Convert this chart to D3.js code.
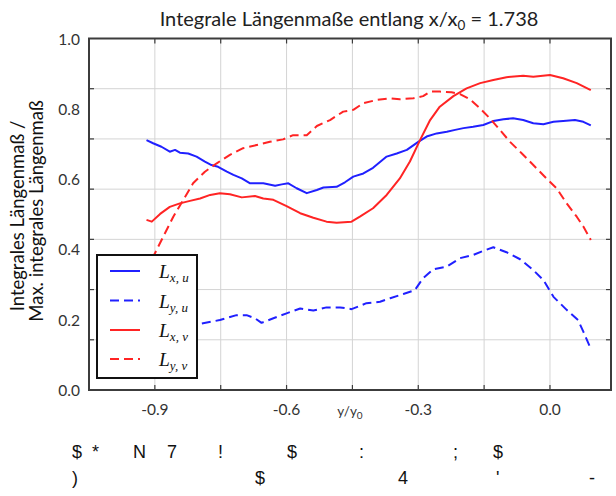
<!DOCTYPE html>
<html><head><meta charset="utf-8">
<script src="https://cdn.jsdelivr.net/npm/d3@7"></script>
<style>body{margin:0;background:#fff}svg{display:block}</style>
</head><body>
<svg id="c" width="616" height="496"></svg>
<script>
// ---------- data ----------
const xTicks = [-0.9, -0.75, -0.6, -0.45, -0.3, -0.15, 0.0];
const xTickLabels = ["-0.9", "-0.6", "-0.3", "0.0"];
const xLabelVals = [-0.9, -0.6, -0.3, 0.0];
const yLabelVals = [0, 0.2, 0.4, 0.6, 0.8, 1.0];
const yTickLabels = ["0.0", "0.2", "0.4", "0.6", "0.8", "1.0"];
const yGridVals = [1/7, 2/7, 3/7, 4/7, 5/7, 6/7];

const title = "Integrale Längenmaße entlang x/x";
const titleSub = "0";
const titleEnd = " = 1.738";
const yTitle1 = "Integrales Längenmaß /";
const yTitle2 = "Max. integrales Längenmaß";

// L_{x,u}  (blue solid)
const xLxu = [-0.919,-0.904,-0.885,-0.866,-0.854,-0.843,-0.824,-0.805,-0.786,-0.771,-0.756,-0.736,-0.721,-0.702,-0.683,-0.653,-0.626,-0.611,-0.596,-0.577,-0.554,-0.531,-0.516,-0.486,-0.467,-0.448,-0.425,-0.403,-0.372,-0.349,-0.326,-0.300,-0.281,-0.258,-0.235,-0.216,-0.197,-0.175,-0.152,-0.129,-0.106,-0.084,-0.061,-0.038,-0.015,0.008,0.030,0.057,0.076,0.093];
const yLxu = [0.711,0.702,0.692,0.678,0.683,0.675,0.673,0.664,0.650,0.640,0.635,0.621,0.612,0.602,0.588,0.588,0.581,0.585,0.588,0.574,0.560,0.569,0.576,0.578,0.591,0.607,0.616,0.632,0.664,0.673,0.683,0.706,0.721,0.730,0.735,0.740,0.745,0.749,0.754,0.765,0.770,0.773,0.768,0.759,0.756,0.763,0.765,0.768,0.763,0.753];

// L_{y,u}  (blue dashed)
const xLyu = [-0.919,-0.866,-0.797,-0.752,-0.714,-0.691,-0.672,-0.657,-0.630,-0.600,-0.569,-0.539,-0.509,-0.478,-0.452,-0.418,-0.387,-0.364,-0.334,-0.308,-0.289,-0.266,-0.235,-0.205,-0.175,-0.152,-0.129,-0.099,-0.068,-0.038,-0.015,0.008,0.038,0.064,0.076,0.091];
const yLyu = [0.165,0.176,0.188,0.199,0.213,0.213,0.204,0.191,0.204,0.218,0.232,0.226,0.235,0.235,0.230,0.247,0.251,0.261,0.273,0.284,0.318,0.343,0.351,0.375,0.384,0.396,0.406,0.392,0.372,0.341,0.313,0.265,0.228,0.199,0.166,0.123];

// L_{x,v}  (red solid)
const xLxv = [-0.919,-0.907,-0.888,-0.866,-0.843,-0.820,-0.797,-0.774,-0.752,-0.729,-0.702,-0.672,-0.653,-0.630,-0.600,-0.569,-0.539,-0.509,-0.486,-0.452,-0.433,-0.403,-0.372,-0.342,-0.319,-0.296,-0.273,-0.251,-0.220,-0.190,-0.159,-0.129,-0.099,-0.061,-0.038,0.000,0.030,0.061,0.093];
const yLxv = [0.484,0.479,0.501,0.521,0.531,0.538,0.545,0.555,0.560,0.557,0.548,0.552,0.545,0.541,0.523,0.503,0.490,0.479,0.476,0.479,0.493,0.517,0.555,0.602,0.650,0.711,0.768,0.806,0.836,0.858,0.873,0.882,0.890,0.894,0.891,0.896,0.887,0.873,0.853];

// L_{y,v}  (red dashed)
const xLyv = [-0.919,-0.905,-0.881,-0.858,-0.835,-0.813,-0.786,-0.759,-0.729,-0.699,-0.668,-0.638,-0.608,-0.585,-0.554,-0.531,-0.501,-0.471,-0.448,-0.425,-0.395,-0.364,-0.342,-0.311,-0.289,-0.273,-0.251,-0.224,-0.205,-0.182,-0.159,-0.137,-0.114,-0.091,-0.064,-0.038,-0.008,0.015,0.038,0.061,0.076,0.093];
const yLyv = [0.336,0.376,0.436,0.493,0.541,0.588,0.621,0.645,0.669,0.688,0.697,0.706,0.713,0.725,0.725,0.751,0.768,0.792,0.797,0.816,0.825,0.830,0.827,0.830,0.836,0.849,0.849,0.847,0.842,0.827,0.801,0.773,0.740,0.706,0.673,0.640,0.602,0.574,0.531,0.493,0.465,0.427];

const legendMain = ["L", "L", "L", "L"];
const legendSub = ["x, u", "y, u", "x, v", "y, v"];

const footRow1 = ["$", "*", "N", "7", "!", "$", ":", ";", "$"];
const footRow2 = [")", "$", "4", "'", "-"];

// ---------- layout ----------
const L = 89, R = 611, T = 38.5, B = 390;
const BLUE = "#2020ff", RED = "#ff2424";
const FONT = "Lato, 'Open Sans', sans-serif";
const foot1X = [72, 92, 133, 167, 218, 287, 359, 453, 493];
const foot2X = [72, 255, 398, 496, 589];

const svg = d3.select("#c");
const x = d3.scaleLinear().domain([-1.05, 0.139]).range([L, R]);
const y = d3.scaleLinear().domain([0, 1]).range([B, T]);

const series = [
  {xs: xLxu, ys: yLxu, color: BLUE, dash: null},
  {xs: xLyu, ys: yLyu, color: BLUE, dash: "9,5"},
  {xs: xLxv, ys: yLxv, color: RED, dash: null},
  {xs: xLyv, ys: yLyv, color: RED, dash: "9,5"}
];

// grid
svg.append("g").selectAll("line").data(xTicks).join("line")
  .attr("x1", d => x(d)).attr("x2", d => x(d)).attr("y1", T).attr("y2", B)
  .attr("stroke", "#d4d4d4").attr("stroke-width", 1);
svg.append("g").selectAll("line").data(yGridVals).join("line")
  .attr("x1", L).attr("x2", R).attr("y1", d => y(d)).attr("y2", d => y(d))
  .attr("stroke", "#d4d4d4").attr("stroke-width", 1);

// data lines
const line = d3.line().x(d => x(d[0])).y(d => y(d[1])).curve(d3.curveLinear);
svg.append("g").selectAll("path").data(series).join("path")
  .attr("d", s => line(d3.zip(s.xs, s.ys)))
  .attr("fill", "none").attr("stroke", s => s.color).attr("stroke-width", 2)
  .attr("stroke-dasharray", s => s.dash)
  .attr("stroke-linejoin", "round");

// frame
svg.append("rect").attr("x", L).attr("y", T).attr("width", R - L).attr("height", B - T)
  .attr("fill", "none").attr("stroke", "#3c3c3c").attr("stroke-width", 2);

// ticks inside
const tk = svg.append("g").attr("stroke", "#3c3c3c").attr("stroke-width", 1.2);
xTicks.forEach(v => {
  tk.append("line").attr("x1", x(v)).attr("x2", x(v)).attr("y1", B).attr("y2", B - 5);
  tk.append("line").attr("x1", x(v)).attr("x2", x(v)).attr("y1", T).attr("y2", T + 5);
});
yGridVals.forEach(v => {
  tk.append("line").attr("x1", L).attr("x2", L + 5).attr("y1", y(v)).attr("y2", y(v));
  tk.append("line").attr("x1", R).attr("x2", R - 5).attr("y1", y(v)).attr("y2", y(v));
});

// tick labels
svg.append("g").selectAll("text").data(xLabelVals).join("text")
  .attr("x", d => x(d)).attr("y", 414.5).attr("text-anchor", "middle")
  .attr("font-family", FONT).attr("font-size", 15.5).attr("fill", "#333")
  .text((d, i) => xTickLabels[i]);
svg.append("g").selectAll("text").data(yLabelVals).join("text")
  .attr("x", 80).attr("y", d => y(d) + 6).attr("text-anchor", "end")
  .attr("font-family", FONT).attr("font-size", 15.5).attr("fill", "#333")
  .text((d, i) => yTickLabels[i]);

// x axis title
const xt = svg.append("text").attr("x", 350).attr("y", 416).attr("text-anchor", "middle")
  .attr("font-family", FONT).attr("font-size", 13.5).attr("fill", "#333");
xt.append("tspan").text("y/y");
xt.append("tspan").attr("font-size", 10).attr("dy", 3).text("0");

// title
const tt = svg.append("text").attr("x", 349).attr("y", 26).attr("text-anchor", "middle")
  .attr("font-family", FONT).attr("font-size", 20).attr("fill", "#222");
tt.append("tspan").text(title);
tt.append("tspan").attr("font-size", 13.5).attr("dy", 4).text(titleSub);
tt.append("tspan").attr("dy", -4).text(titleEnd);

// y axis title
svg.append("text").attr("transform", "translate(24,216) rotate(-90)")
  .attr("text-anchor", "middle").attr("font-family", FONT).attr("font-size", 18.5).attr("fill", "#111")
  .text(yTitle1);
svg.append("text").attr("transform", "translate(43,211) rotate(-90)")
  .attr("text-anchor", "middle").attr("font-family", FONT).attr("font-size", 18.5).attr("fill", "#111")
  .text(yTitle2);

// legend
const lg = svg.append("g");
lg.append("rect").attr("x", 97).attr("y", 255).attr("width", 100).attr("height", 123)
  .attr("fill", "#fff").attr("stroke", "#111").attr("stroke-width", 2);
const rowY = [271, 300.5, 330, 359];
series.forEach((s, i) => {
  lg.append("line").attr("x1", 110).attr("x2", 140).attr("y1", rowY[i]).attr("y2", rowY[i])
    .attr("stroke", s.color).attr("stroke-width", 2).attr("stroke-dasharray", s.dash);
  const t = lg.append("text").attr("x", 159).attr("y", rowY[i] + 7)
    .attr("font-family", "'Liberation Serif', 'DejaVu Serif', serif").attr("font-style", "italic")
    .attr("font-size", 19.5).attr("fill", "#111");
  t.append("tspan").text(legendMain[i]);
  t.append("tspan").attr("font-size", 13).attr("dy", 4).text(legendSub[i]);
});

// footer text
svg.append("g").selectAll("text").data(footRow1).join("text")
  .attr("x", (d, i) => foot1X[i]).attr("y", 458)
  .attr("font-family", "'Liberation Sans', Arial, sans-serif").attr("font-size", 18).attr("fill", "#111")
  .text(d => d);
svg.append("g").selectAll("text").data(footRow2).join("text")
  .attr("x", (d, i) => foot2X[i]).attr("y", 484)
  .attr("font-family", "'Liberation Sans', Arial, sans-serif").attr("font-size", 18).attr("fill", "#111")
  .text(d => d);
</script>
</body></html>
